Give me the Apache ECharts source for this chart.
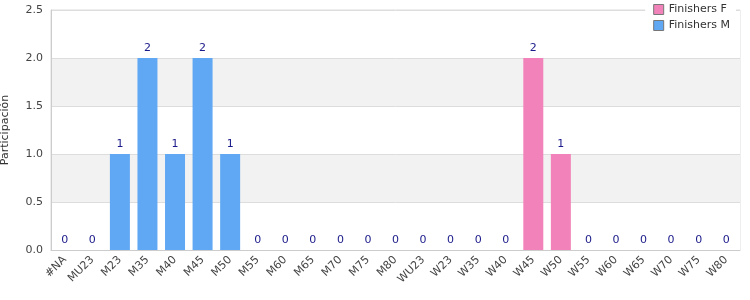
<!DOCTYPE html>
<html><head><meta charset="utf-8">
<script src="https://cdn.jsdelivr.net/npm/echarts@6/dist/echarts.min.js"></script>
<style>html,body{margin:0;padding:0;background:#fff}#c{width:750px;height:300px}</style>
</head><body><div id="c"></div>
<script>
const categories = ['#NA','MU23','M23','M35','M40','M45','M50','M55','M60','M65','M70','M75','M80','WU23','W23','W35','W40','W45','W50','W55','W60','W65','W70','W75','W80'];
const finishersM = [0,0,1,2,1,2,1,0,0,0,0,0,0,null,null,null,null,null,null,null,null,null,null,null,null];
const finishersF = [null,null,null,null,null,null,null,null,null,null,null,null,null,0,0,0,0,2,1,0,0,0,0,0,0];
const chart = echarts.init(document.getElementById('c'));
const font = 'DejaVu Sans';
const lbl = {show:true, position:'top', color:'#1a1a8a', fontSize:11, fontFamily:font, distance:4};
chart.setOption({
  animation:false,
  textStyle:{fontFamily:font},
  grid:{left:51, right:10, top:10, bottom:50, show:true, borderColor:'#ddd', borderWidth:1, outerBoundsMode:'none', containLabel:false},
  legend:{orient:'vertical', right:14, top:1, itemWidth:10, itemHeight:10, itemGap:5, icon:'rect',
    backgroundColor:'#fff', padding:[3,6,3,8],
    textStyle:{fontSize:11, color:'#333', fontFamily:font},
    data:[
      {name:'Finishers F', itemStyle:{borderColor:'#777', borderWidth:1}},
      {name:'Finishers M', itemStyle:{borderColor:'#777', borderWidth:1}}]},
  xAxis:{type:'category', data:categories,
    axisLine:{lineStyle:{color:'#ccc'}}, axisTick:{show:false},
    axisLabel:{rotate:45, fontSize:11, color:'#444', fontFamily:font, interval:0, margin:8}},
  yAxis:{type:'value', min:0, max:2.5, interval:0.5,
    name:'Participación', nameLocation:'middle', nameGap:40, nameRotate:90,
    nameTextStyle:{fontSize:11, color:'#333', fontFamily:font},
    axisLine:{show:true, lineStyle:{color:'#ccc'}},
    axisLabel:{formatter:v=>v.toFixed(1), fontSize:11, color:'#444', fontFamily:font},
    splitLine:{lineStyle:{color:'#ddd'}},
    splitArea:{show:true, areaStyle:{color:['#ffffff','#f2f2f2']}}},
  series:[
    {name:'Finishers F', type:'bar', stack:'a', data:finishersF, barWidth:20,
      itemStyle:{color:'#f283ba'}, label:lbl},
    {name:'Finishers M', type:'bar', stack:'a', data:finishersM, barWidth:20,
      itemStyle:{color:'#60a8f4'}, label:lbl}
  ]
});
</script></body></html>
